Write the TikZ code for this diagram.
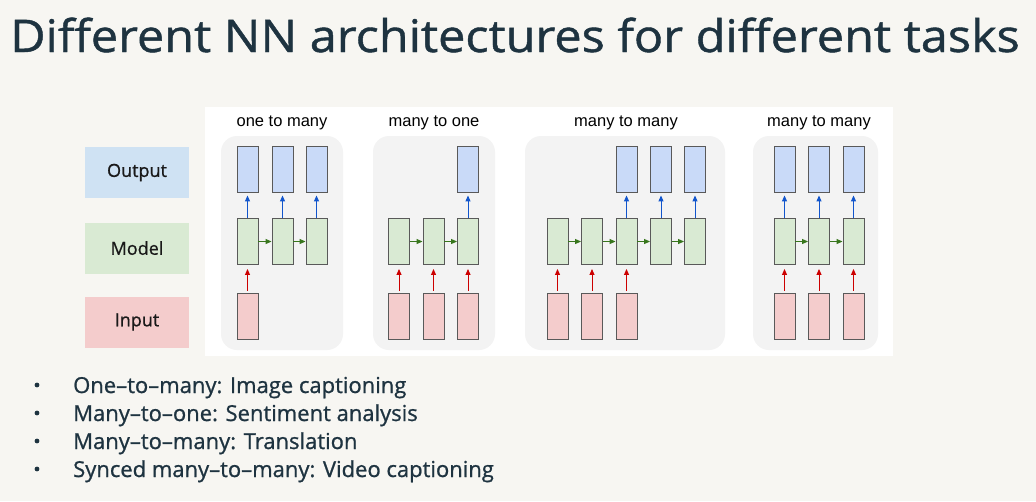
\documentclass[tikz,border=0pt]{standalone}
\usepackage{fontspec}
\usepackage{graphicx}
\setmainfont{Open Sans}
\newfontfamily\medfont{Open Sans}[FakeBold=0.9]
\newfontfamily\diagfont{Liberation Sans}
\usetikzlibrary{arrows.meta}
\definecolor{bg}{HTML}{F7F6F2}
\definecolor{ink}{HTML}{1E3340}
\definecolor{panel}{HTML}{F3F3F3}
\definecolor{outC}{HTML}{C9DAF8}
\definecolor{modC}{HTML}{D9EAD3}
\definecolor{inC}{HTML}{F4CCCC}
\definecolor{outL}{HTML}{CFE2F3}
\definecolor{edge}{HTML}{595959}
\definecolor{blueA}{HTML}{1155CC}
\definecolor{redA}{HTML}{CC0000}
\definecolor{greenA}{HTML}{38761D}
\tikzset{
  cell/.style={draw=edge, line width=0.9pt, minimum width=21pt, minimum height=46pt, inner sep=0pt},
  outcell/.style={cell, fill=outC},
  modcell/.style={cell, fill=modC},
  incell/.style={cell, fill=inC},
  legend/.style={minimum width=104pt, minimum height=51pt, inner sep=0pt, text=black!90, font=\medfont\fontsize{18}{22}\selectfont},
  upblue/.style={draw=blueA, line width=1pt, -{Triangle[length=6pt,width=5pt]}, shorten >=3pt},
  upred/.style={draw=redA, line width=1pt, -{Triangle[length=6pt,width=5pt]}, shorten >=4pt, shorten <=2pt},
  fwd/.style={draw=greenA, line width=1pt, -{Triangle[length=6pt,width=5pt]}},
  caption/.style={anchor=base, font=\diagfont\fontsize{16.5}{18}\selectfont, inner sep=0pt},
  panelbox/.style={fill=panel, rounded corners=16pt},
  bullet/.style={anchor=base west, inner sep=0pt, text=ink, font=\medfont\fontsize{22}{26}\selectfont}
}
\begin{document}
\begin{tikzpicture}[x=1pt,y=-1pt]
\fill[bg] (0,0) rectangle (1036,501);
\useasboundingbox (0,0) rectangle (1036,501);

% heading
\node[anchor=base west, inner sep=0pt, text=ink, font=\medfont\fontsize{45}{50}\selectfont] (title) at (10,52)
  {\scalebox{1.08}[1]{Different NN architectures for different tasks}};

% legend boxes
\node[legend, fill=outL] (lout) at (137,172.5) {Output};
\node[legend, fill=modC] (lmod) at (137,248) {Model};
\node[legend, fill=inC] (lin) at (137,322) {Input};

% white backdrop and grey panels
\fill[white] (205,107) rectangle (893,356);
\path[panelbox] (221,136) rectangle (343,350);
\path[panelbox] (373,136) rectangle (495,350);
\path[panelbox] (525,136) rectangle (725,350);
\path[panelbox] (753,136) rectangle (878,350);

% panel captions
\node[caption] (c1) at (282,126) {one to many};
\node[caption] (c2) at (434,126) {many to one};
\node[caption] (c3) at (626,126) {many to many};
\node[caption] (c4) at (819,126) {many to many};

% one to many
\foreach \i/\x in {1/247.5,2/282.5,3/316.5}{
  \node[outcell] (a\i o) at (\x,169) {};
  \node[modcell] (a\i m) at (\x,241.5) {};
  \draw[upblue] (a\i m) -- (a\i o);
}
\node[incell] (a1i) at (247.5,316) {};
\draw[upred] (a1i) -- (a1m);
\draw[fwd] (a1m) -- (a2m);
\draw[fwd] (a2m) -- (a3m);

% many to one
\foreach \i/\x in {1/399,2/433.5,3/468}{
  \node[modcell] (b\i m) at (\x,241.5) {};
  \node[incell] (b\i i) at (\x,316) {};
  \draw[upred] (b\i i) -- (b\i m);
}
\node[outcell] (b3o) at (468,169) {};
\draw[upblue] (b3m) -- (b3o);
\draw[fwd] (b1m) -- (b2m);
\draw[fwd] (b2m) -- (b3m);

% many to many, delayed
\foreach \i/\x in {1/557.5,2/592,3/626.5,4/661,5/695}{
  \node[modcell] (d\i m) at (\x,241.5) {};
}
\foreach \i in {1,2,3}{
  \node[incell] (d\i i) at (d\i m |- 0,316) {};
  \draw[upred] (d\i i) -- (d\i m);
}
\foreach \i in {3,4,5}{
  \node[outcell] (d\i o) at (d\i m |- 0,169) {};
  \draw[upblue] (d\i m) -- (d\i o);
}
\draw[fwd] (d1m) -- (d2m);
\draw[fwd] (d2m) -- (d3m);
\draw[fwd] (d3m) -- (d4m);
\draw[fwd] (d4m) -- (d5m);

% many to many, synced
\foreach \i/\x in {1/784.5,2/819,3/853.5}{
  \node[outcell] (e\i o) at (\x,169) {};
  \node[modcell] (e\i m) at (\x,241.5) {};
  \node[incell] (e\i i) at (\x,316) {};
  \draw[upblue] (e\i m) -- (e\i o);
  \draw[upred] (e\i i) -- (e\i m);
}
\draw[fwd] (e1m) -- (e2m);
\draw[fwd] (e2m) -- (e3m);

% task list
\foreach \n/\y/\t in {1/393/{One–to–many: Image captioning},
                      2/421/{Many–to–one: Sentiment analysis},
                      3/449/{Many–to–many: Translation},
                      4/477/{Synced many–to–many: Video captioning}}{
  \fill[ink] (37,\y-8) circle (2.4pt);
  \node[bullet] (t\n) at (73,\y) {\t};
}
\end{tikzpicture}
\end{document}
